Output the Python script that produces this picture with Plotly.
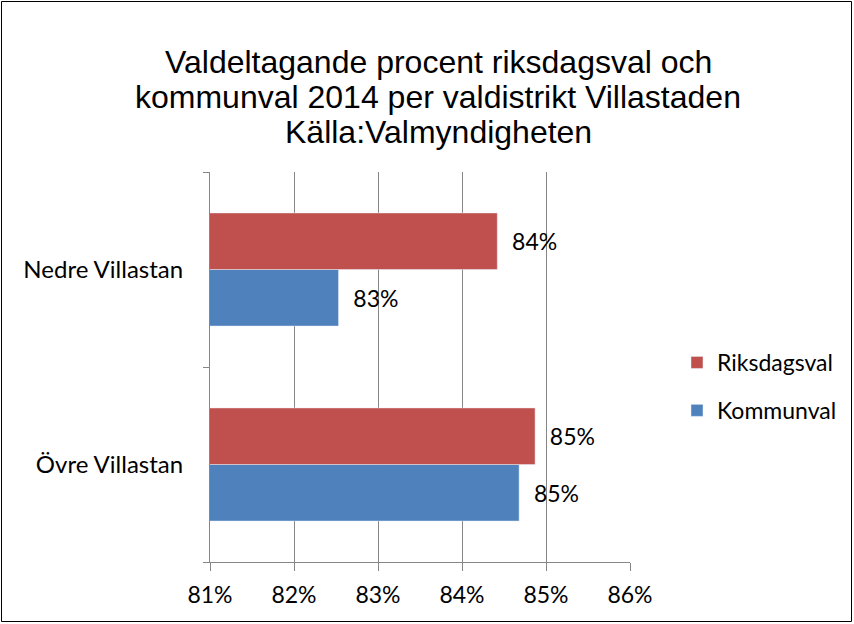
import plotly.graph_objects as go

categories = ["Övre Villastan", "Nedre Villastan"]
riksdagsval = [84.87, 84.42]
kommunval = [84.68, 82.53]
x_ticks = [81, 82, 83, 84, 85, 86]
x_tick_labels = ["81%", "82%", "83%", "84%", "85%", "86%"]
title_lines = [
    "Valdeltagande procent riksdagsval och",
    "kommunval 2014 per valdistrikt Villastaden",
    "Källa:Valmyndigheten",
]

RED = "#C0504D"
BLUE = "#4F81BD"
LABEL_FONT = dict(family="Lato, Carlito, Liberation Sans", size=23, color="black")
TICK_FONT = dict(family="Lato, Carlito, Liberation Sans", size=24, color="black")

def labels(vals):
    return ["\u00a0\u00a0" + f"{round(v):d}%" for v in vals]

fig = go.Figure()
fig.add_trace(go.Bar(
    y=categories, x=kommunval, orientation="h", name="Kommunval",
    marker=dict(color=BLUE), text=labels(kommunval), textposition="outside",
    textfont=LABEL_FONT, constraintext="none", cliponaxis=False,
    legendgroup="k", legendrank=2, hoverinfo="x+y",
))
fig.add_trace(go.Bar(
    y=categories, x=riksdagsval, orientation="h", name="Riksdagsval",
    marker=dict(color=RED), text=labels(riksdagsval), textposition="outside",
    textfont=LABEL_FONT, constraintext="none", cliponaxis=False,
    legendgroup="r", legendrank=1, hoverinfo="x+y",
))

W, H = 854, 624
ml, mr, mt, mb = 210, 224, 172, 62
pw, ph = W - ml - mr, H - mt - mb

annotations = []
for i, line in enumerate(title_lines):
    cy = 62 + 35 * i
    annotations.append(dict(
        text=line, showarrow=False, xref="paper", yref="paper",
        x=(438 - ml) / pw, xanchor="center",
        y=1 + (mt - cy) / ph, yanchor="middle",
        font=dict(family="Liberation Sans, Arial", size=32, color="black"),
    ))

fig.update_layout(
    width=W, height=H,
    margin=dict(l=ml, r=mr, t=mt, b=mb, autoexpand=False),
    paper_bgcolor="white", plot_bgcolor="white",
    barmode="group", bargap=0.42, bargroupgap=0,
    font=LABEL_FONT,
    annotations=annotations,
    xaxis=dict(
        range=[81, 86], tickvals=x_ticks, ticktext=x_tick_labels,
        showgrid=True, gridcolor="#868686", gridwidth=1,
        showline=True, linecolor="#868686", linewidth=1,
        ticks="outside", ticklen=8, tickcolor="#868686",
        tickfont=LABEL_FONT, zeroline=False, automargin=False,
        ticklabelstandoff=4,
    ),
    yaxis=dict(
        showgrid=False, showline=True, linecolor="#868686", linewidth=1,
        ticks="outside", ticklen=6, tickcolor="#868686", tickson="boundaries",
        tickfont=TICK_FONT, ticklabelstandoff=21, automargin=False,
    ),
    legend=dict(
        x=1 + (677 - ml - pw) / pw, xanchor="left",
        y=1 - (341 - mt) / ph, yanchor="top",
        traceorder="grouped", tracegroupgap=15,
        font=LABEL_FONT, itemwidth=30,
    ),
    showlegend=True,
    shapes=[dict(
        type="rect", xref="paper", yref="paper",
        x0=(1.5 - ml) / pw, x1=(W - 2.5 - ml) / pw,
        y0=-(H - 2.5 - mt - ph) / ph, y1=1 + (mt - 1.5) / ph,
        line=dict(color="black", width=1), fillcolor="rgba(0,0,0,0)",
        layer="below",
    )],
)

fig.write_html(
    "out.html",
    config={"displayModeBar": False},
    post_script="document.body.style.margin='0';document.body.style.overflow='hidden';",
)
